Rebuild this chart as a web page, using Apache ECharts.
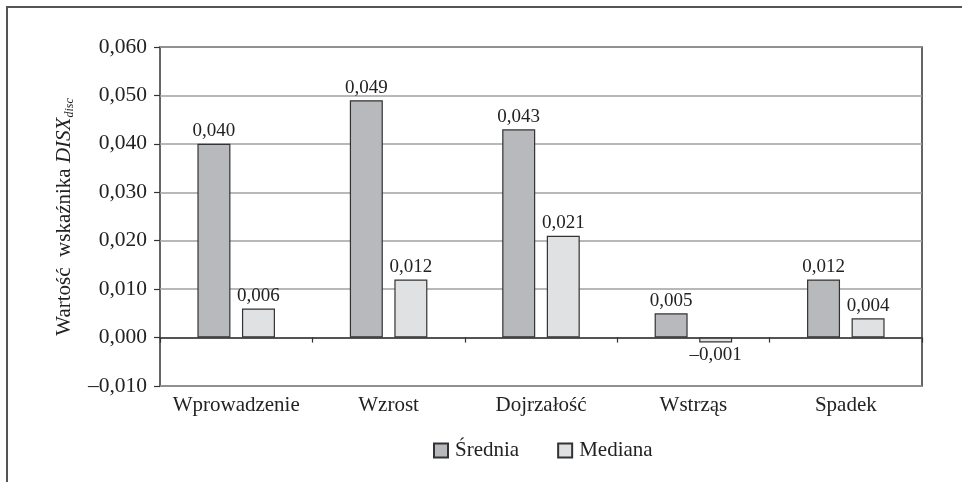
<!DOCTYPE html>
<html>
<head>
<meta charset="utf-8">
<script src="https://cdn.jsdelivr.net/npm/echarts@6/dist/echarts.min.js"></script>
<style>
  html, body { margin: 0; padding: 0; background: #ffffff; }
  #chart { width: 962px; height: 482px; }
</style>
</head>
<body>
<div id="chart"></div>
<script>
// Phases of the company life cycle
var categories = ['Wprowadzenie', 'Wzrost', 'Dojrzałość', 'Wstrząs', 'Spadek'];
// DISX_disc indicator values per phase
var seriesNames = ['Średnia', 'Mediana'];
var meanValues = [0.040, 0.049, 0.043, 0.005, 0.012];
var medianValues = [0.006, 0.012, 0.021, -0.001, 0.004];
// Value axis range
var yMin = -0.01;
var yMax = 0.06;
var yStep = 0.01;

var FONT = '"Liberation Serif", "DejaVu Serif", serif';

function fmt(v) {
  var s = Math.abs(v).toFixed(3).replace('.', ',');
  return (v < -1e-12 ? '\u2013' : '') + s;
}

function toItems(values) {
  return values.map(function (v) {
    return { value: v, label: { position: v < 0 ? 'bottom' : 'top' } };
  });
}

var chart = echarts.init(document.getElementById('chart'), null, { renderer: 'canvas' });

var barLabel = {
  show: true,
  distance: 3,
  color: '#222',
  fontFamily: FONT,
  fontSize: 19,
  formatter: function (p) { return fmt(p.value); }
};

chart.setOption({
  animation: false,
  backgroundColor: '#ffffff',
  textStyle: { fontFamily: FONT },
  grid: {
    left: 160, right: 40, top: 47, bottom: 96,
    show: true,
    borderColor: '#333',
    borderWidth: 1.5,
    backgroundColor: 'transparent'
  },
  legend: {
    data: seriesNames,
    left: 428,
    top: 435,
    icon: 'rect',
    itemWidth: 14,
    itemHeight: 14,
    itemGap: 38,
    textStyle: { fontFamily: FONT, fontSize: 21, color: '#222', padding: [0, 0, 0, 2] }
  },
  xAxis: [
    {
      type: 'category',
      data: categories,
      position: 'bottom',
      axisLine: { show: false, onZero: false },
      axisTick: { show: false },
      axisLabel: { interval: 0, margin: 9, color: '#222', fontFamily: FONT, fontSize: 21 },
      splitLine: { show: false }
    },
    {
      type: 'category',
      data: categories,
      position: 'top',
      axisLine: { show: true, onZero: true, lineStyle: { color: '#333', width: 1.5 } },
      axisTick: { show: true, inside: true, length: 5, lineStyle: { color: '#333', width: 1.2 } },
      axisLabel: { show: false },
      splitLine: { show: false }
    }
  ],
  yAxis: {
    type: 'value',
    min: yMin,
    max: yMax,
    interval: yStep,
    axisLine: { show: false },
    axisTick: { show: true, length: 6, lineStyle: { color: '#333', width: 1.2 } },
    axisLabel: {
      margin: 13,
      color: '#222',
      fontFamily: FONT,
      fontSize: 21.5,
      formatter: function (v) { return fmt(v); }
    },
    splitLine: { show: true, lineStyle: { color: '#a0a0a0', width: 1.5 } }
  },
  series: [
    {
      name: seriesNames[0],
      type: 'bar',
      xAxisIndex: 0,
      data: toItems(meanValues),
      barWidth: 33,
      barGap: '35%',
      itemStyle: { color: '#b8b9bc', borderColor: '#333', borderWidth: 1.2 },
      label: barLabel
    },
    {
      name: seriesNames[1],
      type: 'bar',
      xAxisIndex: 0,
      data: toItems(medianValues),
      barWidth: 33,
      barGap: '35%',
      itemStyle: { color: '#e0e1e3', borderColor: '#333', borderWidth: 1.2 },
      label: barLabel
    }
  ],
  graphic: [
    {
      type: 'polyline',
      shape: { points: [[7, 482], [7, 7], [962, 7]] },
      style: { stroke: '#555', lineWidth: 2, fill: null },
      silent: true
    },
    {
      type: 'text',
      x: 64,
      y: 217,
      rotation: Math.PI / 2,
      style: {
        text: '{a|Wartość  wskaźnika }{b|DISX}{c|disc}',
        align: 'center',
        verticalAlign: 'middle',
        fill: '#222',
        rich: {
          a: { fontFamily: FONT, fontSize: 21, fill: '#222', lineHeight: 24, verticalAlign: 'middle' },
          b: { fontFamily: FONT, fontSize: 21, fontStyle: 'italic', fill: '#222', lineHeight: 24, verticalAlign: 'middle' },
          c: { fontFamily: FONT, fontSize: 12, fontStyle: 'italic', fill: '#222', lineHeight: 24, verticalAlign: 'bottom', padding: [10, 0, 0, 0] }
        }
      }
    }
  ]
});
</script>
</body>
</html>
